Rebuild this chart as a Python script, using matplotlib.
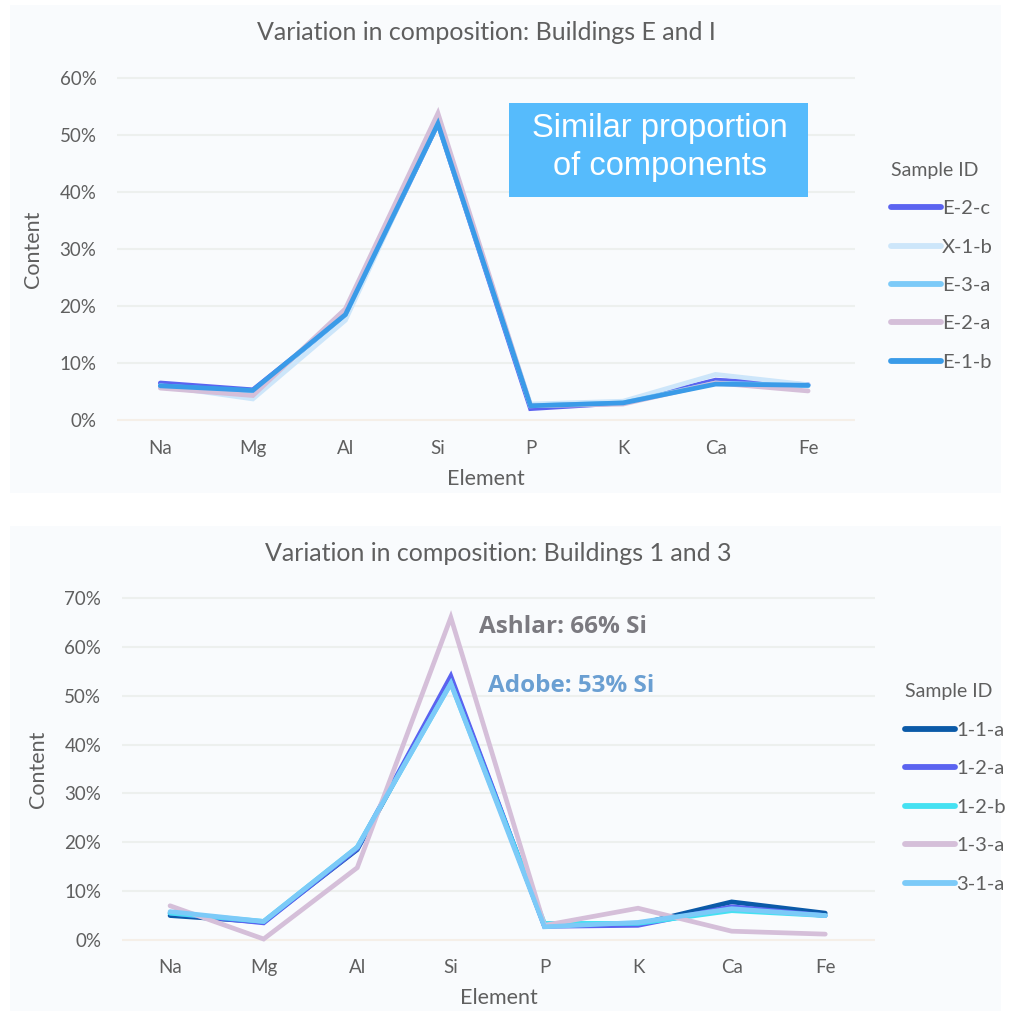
import matplotlib
matplotlib.use("Agg")
import matplotlib.pyplot as plt
from matplotlib.patches import Rectangle

# Data (content in %)
elements = ["Na", "Mg", "Al", "Si", "P", "K", "Ca", "Fe"]

# Buildings E and I
top_ids = ["E-2-c", "X-1-b", "E-3-a", "E-2-a", "E-1-b"]
e_2_c = [6.5, 5.3, 18.3, 52.0, 2.0, 3.0, 7.0, 6.2]
x_1_b = [6.0, 3.7, 17.5, 52.5, 2.8, 3.3, 8.0, 6.2]
e_3_a = [6.0, 5.0, 18.5, 52.0, 2.5, 3.0, 6.5, 6.0]
e_2_a = [5.6, 4.3, 19.5, 53.8, 2.5, 2.8, 6.5, 5.1]
e_1_b = [6.0, 5.2, 18.5, 52.0, 2.5, 3.0, 6.3, 6.1]
top_colors = ["#5b63f0", "#cde6fa", "#7ccaf8", "#d5bfd9", "#3a9be8"]

# Buildings 1 and 3
bot_ids = ["1-1-a", "1-2-a", "1-2-b", "1-3-a", "3-1-a"]
s_1_1_a = [5.0, 3.7, 18.5, 53.5, 2.9, 3.2, 7.8, 5.5]
s_1_2_a = [5.5, 3.5, 18.7, 54.0, 2.8, 3.0, 6.8, 5.0]
s_1_2_b = [5.5, 3.8, 19.0, 52.5, 3.4, 3.4, 6.0, 5.0]
s_1_3_a = [7.0, 0.2, 14.8, 66.0, 3.0, 6.5, 1.8, 1.2]
s_3_1_a = [5.8, 3.8, 19.0, 52.5, 2.7, 3.6, 6.4, 5.0]
bot_colors = ["#0b5aa8", "#5b63f0", "#45e1f2", "#d5bfd9", "#7ccaf8"]

TXT = "#5f5f5f"
plt.rcParams['font.family'] = ['Lato', 'DejaVu Sans']

fig = plt.figure(figsize=(10.11, 10.11), dpi=100)
fig.patch.set_facecolor("white")

# panel backgrounds
fig.patches.append(Rectangle((0.01, 0.512), 0.98, 0.483, transform=fig.transFigure,
                             facecolor="#f9fbfd", edgecolor="none", zorder=-10))
fig.patches.append(Rectangle((0.01, 0.0), 0.98, 0.48, transform=fig.transFigure,
                             facecolor="#f9fbfd", edgecolor="none", zorder=-10))


def style_axes(ax, ymax, xlim):
    ax.set_facecolor("none")
    for s in ax.spines.values():
        s.set_visible(False)
    ax.set_xlim(*xlim)
    ax.set_ylim(-1, ymax + 1)
    ax.set_yticks(range(0, ymax + 1, 10))
    ax.set_yticklabels([f"{v}%" for v in range(0, ymax + 1, 10)])
    ax.set_xticks(range(len(elements)))
    ax.set_xticklabels(elements)
    ax.tick_params(length=0, labelsize=13.5, colors=TXT)
    ax.tick_params(axis="y", pad=15)
    ax.tick_params(axis="x", pad=10)
    for v in range(0, ymax + 1, 10):
        ax.axhline(v, color="#f5efe8" if v == 0 else "#edf0ee", lw=1.5, zorder=0)
    ax.set_xlabel("Element", fontsize=15.5, color=TXT, labelpad=9)
    ax.set_ylabel("Content", fontsize=15.5, color=TXT, labelpad=12)


def style_legend(leg):
    for t in leg.get_texts():
        t.set_color(TXT)
    leg.get_title().set_color(TXT)
    for h in leg.legend_handles:
        h.set_linewidth(4.2)


# top chart
ax1 = fig.add_axes([0.116, 0.5789, 0.730, 0.3496])
style_axes(ax1, 60, (-0.465, 7.51))
for sid, vals, c in zip(top_ids, [e_2_c, x_1_b, e_3_a, e_2_a, e_1_b], top_colors):
    ax1.plot(range(len(elements)), vals, color=c, lw=3.4, label=sid,
             solid_capstyle="round", solid_joinstyle="miter")
ax1.set_title("Variation in composition: Buildings E and I", fontsize=18,
              color=TXT, pad=23)
leg = fig.legend(*ax1.get_legend_handles_labels(), loc="upper left",
                 bbox_to_anchor=(0.863, 0.858), frameon=False, fontsize=14.5,
                 title="Sample ID", title_fontsize=14, handlelength=2.5,
                 handletextpad=0.05, labelspacing=1.06, alignment="left")
style_legend(leg)

# callout box
fig.patches.append(Rectangle((509 / 1011, 1 - 197 / 1011), 299 / 1011, 94 / 1011,
                             transform=fig.transFigure, facecolor="#56bbfc",
                             edgecolor="none", zorder=3))
for line, ypx in [("Similar proportion", 129), ("of components", 166)]:
    fig.text(660 / 1011, 1 - ypx / 1011, line, ha="center", va="center",
             color="white", fontsize=23.5, family=["Liberation Sans", "DejaVu Sans"],
             zorder=4)

# bottom chart
ax2 = fig.add_axes([0.1207, 0.0654, 0.745, 0.348])
style_axes(ax2, 70, (-0.513, 7.534))
for sid, vals, c in zip(bot_ids, [s_1_1_a, s_1_2_a, s_1_2_b, s_1_3_a, s_3_1_a], bot_colors):
    ax2.plot(range(len(elements)), vals, color=c, lw=3.4, label=sid,
             solid_capstyle="round", solid_joinstyle="miter")
ax2.set_title("Variation in composition: Buildings 1 and 3", fontsize=18,
              color=TXT, pad=23)
leg2 = fig.legend(*ax2.get_legend_handles_labels(), loc="upper left",
                  bbox_to_anchor=(0.877, 0.342), frameon=False, fontsize=14.5,
                  title="Sample ID", title_fontsize=14, handlelength=2.5,
                  handletextpad=0.05, labelspacing=1.06, alignment="left")
style_legend(leg2)

ax2.text(3.3, 64.0, "Ashlar: 66% Si", fontsize=17.5, fontweight="bold",
         color="#7b7a80", family=["Open Sans", "DejaVu Sans"], va="center", ha="left")
ax2.text(3.4, 52.0, "Adobe: 53% Si", fontsize=17.5, fontweight="bold",
         color="#6a9fd2", family=["Open Sans", "DejaVu Sans"], va="center", ha="left")

fig.savefig("out.png", dpi=100)
